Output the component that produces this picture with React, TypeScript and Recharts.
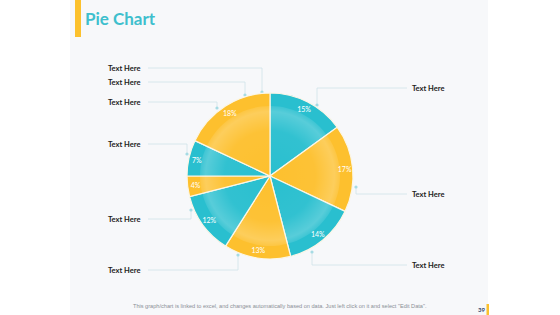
import { Cell, Pie, PieChart } from "recharts";

const segments = ["A", "B", "C", "D", "E", "F", "G", "H"];
const shares = [15, 17, 14, 13, 12, 4, 7, 18];
const calloutText = "Text Here";

const TEAL = "#29bfcf";
const YELLOW = "#fdc02e";
const RADIAN = Math.PI / 180;

// leader lines (label anchor -> elbow -> dot on pie edge), decorative only
const leftCallouts = [
  { y: 68, x: 262, end: 92 },
  { y: 82, x: 245, end: 95 },
  { y: 102, x: 217, end: 108 },
  { y: 144, x: 187, end: 154 },
  { y: 219, x: 191, end: 210 },
  { y: 270, x: 238, end: 255 },
];
const rightCallouts = [
  { y: 88, x: 317, end: 105 },
  { y: 194, x: 356, end: 187 },
  { y: 265, x: 312, end: 252 },
];

const rows = segments.map((name, i) => ({ name, value: shares[i] }));

function PercentLabel(props: any) {
  const { cx, cy, midAngle, outerRadius, value } = props;
  const r = outerRadius - 8;
  const x = cx + r * Math.cos(-midAngle * RADIAN);
  const y = cy + r * Math.sin(-midAngle * RADIAN);
  return (
    <text x={x} y={y} fill="#ffffff" fontSize={7} textAnchor="middle" dominantBaseline="central" fontFamily="Lato, sans-serif">
      {`${value}%`}
    </text>
  );
}

export default function App() {
  return (
    <div style={{ position: "fixed", left: 0, top: 0, width: 560, height: 315, background: "#fff", fontFamily: "Lato, sans-serif", overflow: "hidden" }}>
      <div style={{ position: "absolute", left: 70, top: 0, width: 418, height: 315, background: "#f7f8fa" }} />
      <div style={{ position: "absolute", left: 75, top: 0, width: 6, height: 37, background: "#fcc12d" }} />
      <div style={{ position: "absolute", left: 85, top: 8, fontSize: 17, fontWeight: 700, color: "#3ebfcd" }}>Pie Chart</div>

      <svg width={560} height={315} style={{ position: "absolute", left: 0, top: 0 }}>
        {leftCallouts.map((c, i) => (
          <g key={`l-${i}`}>
            <polyline points={`148,${c.y} ${c.x},${c.y} ${c.x},${c.end}`} fill="none" stroke="#cfe2e8" strokeWidth={0.8} />
            <circle cx={c.x} cy={c.end} r={1.6} fill="#a6dbe4" />
            <text x={108} y={c.y} dominantBaseline="central" fontSize={7.5} fontWeight={700} fill="#222">{calloutText}</text>
          </g>
        ))}
        {rightCallouts.map((c, i) => (
          <g key={`r-${i}`}>
            <polyline points={`407,${c.y} ${c.x},${c.y} ${c.x},${c.end}`} fill="none" stroke="#cfe2e8" strokeWidth={0.8} />
            <circle cx={c.x} cy={c.end} r={1.6} fill="#a6dbe4" />
            <text x={412} y={c.y} dominantBaseline="central" fontSize={7.5} fontWeight={700} fill="#222">{calloutText}</text>
          </g>
        ))}
        <text x={133} y={308} fontSize={5.6} fill="#8a8f96" fontFamily="Arial, Liberation Sans, sans-serif">
          This graph/chart is linked to excel, and changes automatically based on data. Just left click on it and select "Edit Data".
        </text>
        <text x={478} y={312} fontSize={6} fontWeight={700} fill="#2c3e6b">39</text>
        <rect x={486.5} y={304} width={2.5} height={11} fill="#fcc12d" />
      </svg>

      <div style={{ position: "absolute", left: 0, top: 0 }}>
        <PieChart width={560} height={315} margin={{ top: 0, right: 0, bottom: 0, left: 0 }}>
          <defs>
            <radialGradient id="glow" cx="50%" cy="50%" r="50%">
              <stop offset="0%" stopColor="#fff" stopOpacity={0} />
              <stop offset="65%" stopColor="#fff" stopOpacity={0.04} />
              <stop offset="92%" stopColor="#fff" stopOpacity={0.22} />
              <stop offset="100%" stopColor="#fff" stopOpacity={0.1} />
            </radialGradient>
          </defs>
          <Pie
            data={rows}
            dataKey="value"
            cx={270}
            cy={176}
            outerRadius={83}
            startAngle={90}
            endAngle={-270}
            stroke="#fbf6e6"
            strokeWidth={1.2}
            isAnimationActive={false}
          >
            {rows.map((r, i) => (
              <Cell key={r.name} fill={i % 2 === 0 ? TEAL : YELLOW} />
            ))}
          </Pie>
          <Pie
            data={[{ name: "glow", value: 1 }]}
            dataKey="value"
            cx={270}
            cy={176}
            outerRadius={70}
            fill="url(#glow)"
            stroke="none"
            isAnimationActive={false}
          />
          <Pie
            data={rows}
            dataKey="value"
            cx={270}
            cy={176}
            outerRadius={83}
            startAngle={90}
            endAngle={-270}
            fill="transparent"
            stroke="none"
            label={PercentLabel}
            labelLine={false}
            isAnimationActive={false}
          />
        </PieChart>
      </div>
    </div>
  );
}
